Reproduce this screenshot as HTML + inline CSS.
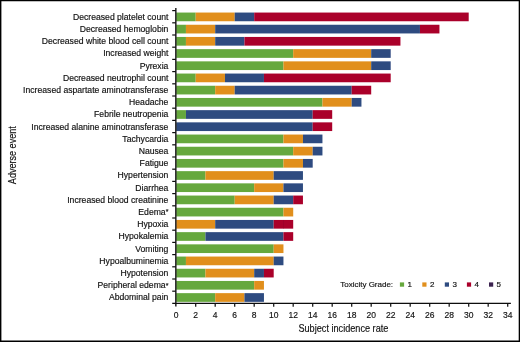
<!DOCTYPE html>
<html><head><meta charset="utf-8"><title>Adverse events</title>
<style>html,body{margin:0;padding:0;background:#fff;}svg{display:block;}text{stroke:#111;stroke-width:0.16px;}</style></head>
<body>
<svg width="520" height="342" viewBox="0 0 520 342" font-family="'Liberation Sans', sans-serif" fill="#111">
<defs><filter id="soft" x="0" y="0" width="520" height="342" filterUnits="userSpaceOnUse"><feGaussianBlur stdDeviation="0.35"/></filter></defs>
<rect x="0" y="0" width="520" height="342" fill="#fff"/>
<g filter="url(#soft)">
<rect x="176.20" y="12.55" width="19.50" height="8.7" fill="#66a83c"/>
<rect x="195.70" y="12.55" width="39.00" height="8.7" fill="#e18f1b"/>
<rect x="234.70" y="12.55" width="19.50" height="8.7" fill="#2d4b80"/>
<rect x="254.20" y="12.55" width="214.50" height="8.7" fill="#aa042c"/>
<text x="168.4" y="19.80" font-size="8.65" text-anchor="end">Decreased platelet count</text>
<rect x="176.20" y="24.75" width="9.75" height="8.7" fill="#66a83c"/>
<rect x="185.95" y="24.75" width="29.25" height="8.7" fill="#e18f1b"/>
<rect x="215.20" y="24.75" width="204.75" height="8.7" fill="#2d4b80"/>
<rect x="419.95" y="24.75" width="19.50" height="8.7" fill="#aa042c"/>
<text x="168.4" y="32.00" font-size="8.65" text-anchor="end">Decreased hemoglobin</text>
<rect x="176.20" y="36.95" width="9.75" height="8.7" fill="#66a83c"/>
<rect x="185.95" y="36.95" width="29.25" height="8.7" fill="#e18f1b"/>
<rect x="215.20" y="36.95" width="29.25" height="8.7" fill="#2d4b80"/>
<rect x="244.45" y="36.95" width="156.00" height="8.7" fill="#aa042c"/>
<text x="168.4" y="44.20" font-size="8.65" text-anchor="end">Decreased white blood cell count</text>
<rect x="176.20" y="49.15" width="117.00" height="8.7" fill="#66a83c"/>
<rect x="293.20" y="49.15" width="78.00" height="8.7" fill="#e18f1b"/>
<rect x="371.20" y="49.15" width="19.50" height="8.7" fill="#2d4b80"/>
<text x="168.4" y="56.40" font-size="8.65" text-anchor="end">Increased weight</text>
<rect x="176.20" y="61.35" width="107.25" height="8.7" fill="#66a83c"/>
<rect x="283.45" y="61.35" width="87.75" height="8.7" fill="#e18f1b"/>
<rect x="371.20" y="61.35" width="19.50" height="8.7" fill="#2d4b80"/>
<text x="168.4" y="68.60" font-size="8.65" text-anchor="end">Pyrexia</text>
<rect x="176.20" y="73.55" width="19.50" height="8.7" fill="#66a83c"/>
<rect x="195.70" y="73.55" width="29.25" height="8.7" fill="#e18f1b"/>
<rect x="224.95" y="73.55" width="39.00" height="8.7" fill="#2d4b80"/>
<rect x="263.95" y="73.55" width="126.75" height="8.7" fill="#aa042c"/>
<text x="168.4" y="80.80" font-size="8.65" text-anchor="end">Decreased neutrophil count</text>
<rect x="176.20" y="85.75" width="39.00" height="8.7" fill="#66a83c"/>
<rect x="215.20" y="85.75" width="19.50" height="8.7" fill="#e18f1b"/>
<rect x="234.70" y="85.75" width="117.00" height="8.7" fill="#2d4b80"/>
<rect x="351.70" y="85.75" width="19.50" height="8.7" fill="#aa042c"/>
<text x="168.4" y="93.00" font-size="8.65" text-anchor="end">Increased aspartate aminotransferase</text>
<rect x="176.20" y="97.95" width="146.25" height="8.7" fill="#66a83c"/>
<rect x="322.45" y="97.95" width="29.25" height="8.7" fill="#e18f1b"/>
<rect x="351.70" y="97.95" width="9.75" height="8.7" fill="#2d4b80"/>
<text x="168.4" y="105.20" font-size="8.65" text-anchor="end">Headache</text>
<rect x="176.20" y="110.15" width="9.75" height="8.7" fill="#66a83c"/>
<rect x="185.95" y="110.15" width="126.75" height="8.7" fill="#2d4b80"/>
<rect x="312.70" y="110.15" width="19.50" height="8.7" fill="#aa042c"/>
<text x="168.4" y="117.40" font-size="8.65" text-anchor="end">Febrile neutropenia</text>
<rect x="176.20" y="122.35" width="136.50" height="8.7" fill="#2d4b80"/>
<rect x="312.70" y="122.35" width="19.50" height="8.7" fill="#aa042c"/>
<text x="168.4" y="129.60" font-size="8.65" text-anchor="end">Increased alanine aminotransferase</text>
<rect x="176.20" y="134.55" width="107.25" height="8.7" fill="#66a83c"/>
<rect x="283.45" y="134.55" width="19.50" height="8.7" fill="#e18f1b"/>
<rect x="302.95" y="134.55" width="19.50" height="8.7" fill="#2d4b80"/>
<text x="168.4" y="141.80" font-size="8.65" text-anchor="end">Tachycardia</text>
<rect x="176.20" y="146.75" width="117.00" height="8.7" fill="#66a83c"/>
<rect x="293.20" y="146.75" width="19.50" height="8.7" fill="#e18f1b"/>
<rect x="312.70" y="146.75" width="9.75" height="8.7" fill="#2d4b80"/>
<text x="168.4" y="154.00" font-size="8.65" text-anchor="end">Nausea</text>
<rect x="176.20" y="158.95" width="107.25" height="8.7" fill="#66a83c"/>
<rect x="283.45" y="158.95" width="19.50" height="8.7" fill="#e18f1b"/>
<rect x="302.95" y="158.95" width="9.75" height="8.7" fill="#2d4b80"/>
<text x="168.4" y="166.20" font-size="8.65" text-anchor="end">Fatigue</text>
<rect x="176.20" y="171.15" width="29.25" height="8.7" fill="#66a83c"/>
<rect x="205.45" y="171.15" width="68.25" height="8.7" fill="#e18f1b"/>
<rect x="273.70" y="171.15" width="29.25" height="8.7" fill="#2d4b80"/>
<text x="168.4" y="178.40" font-size="8.65" text-anchor="end">Hypertension</text>
<rect x="176.20" y="183.35" width="78.00" height="8.7" fill="#66a83c"/>
<rect x="254.20" y="183.35" width="29.25" height="8.7" fill="#e18f1b"/>
<rect x="283.45" y="183.35" width="19.50" height="8.7" fill="#2d4b80"/>
<text x="168.4" y="190.60" font-size="8.65" text-anchor="end">Diarrhea</text>
<rect x="176.20" y="195.55" width="58.50" height="8.7" fill="#66a83c"/>
<rect x="234.70" y="195.55" width="39.00" height="8.7" fill="#e18f1b"/>
<rect x="273.70" y="195.55" width="19.50" height="8.7" fill="#2d4b80"/>
<rect x="293.20" y="195.55" width="9.75" height="8.7" fill="#aa042c"/>
<text x="168.4" y="202.80" font-size="8.65" text-anchor="end">Increased blood creatinine</text>
<rect x="176.20" y="207.75" width="107.25" height="8.7" fill="#66a83c"/>
<rect x="283.45" y="207.75" width="9.75" height="8.7" fill="#e18f1b"/>
<text x="168.4" y="215.00" font-size="8.65" text-anchor="end">Edema<tspan font-size="7" dy="-0.6">*</tspan></text>
<rect x="176.20" y="219.95" width="39.00" height="8.7" fill="#e18f1b"/>
<rect x="215.20" y="219.95" width="58.50" height="8.7" fill="#2d4b80"/>
<rect x="273.70" y="219.95" width="19.50" height="8.7" fill="#aa042c"/>
<text x="168.4" y="227.20" font-size="8.65" text-anchor="end">Hypoxia</text>
<rect x="176.20" y="232.15" width="29.25" height="8.7" fill="#66a83c"/>
<rect x="205.45" y="232.15" width="78.00" height="8.7" fill="#2d4b80"/>
<rect x="283.45" y="232.15" width="9.75" height="8.7" fill="#aa042c"/>
<text x="168.4" y="239.40" font-size="8.65" text-anchor="end">Hypokalemia</text>
<rect x="176.20" y="244.35" width="97.50" height="8.7" fill="#66a83c"/>
<rect x="273.70" y="244.35" width="9.75" height="8.7" fill="#e18f1b"/>
<text x="168.4" y="251.60" font-size="8.65" text-anchor="end">Vomiting</text>
<rect x="176.20" y="256.55" width="9.75" height="8.7" fill="#66a83c"/>
<rect x="185.95" y="256.55" width="87.75" height="8.7" fill="#e18f1b"/>
<rect x="273.70" y="256.55" width="9.75" height="8.7" fill="#2d4b80"/>
<text x="168.4" y="263.80" font-size="8.65" text-anchor="end">Hypoalbuminemia</text>
<rect x="176.20" y="268.75" width="29.25" height="8.7" fill="#66a83c"/>
<rect x="205.45" y="268.75" width="48.75" height="8.7" fill="#e18f1b"/>
<rect x="254.20" y="268.75" width="9.75" height="8.7" fill="#2d4b80"/>
<rect x="263.95" y="268.75" width="9.75" height="8.7" fill="#aa042c"/>
<text x="168.4" y="276.00" font-size="8.65" text-anchor="end">Hypotension</text>
<rect x="176.20" y="280.95" width="78.00" height="8.7" fill="#66a83c"/>
<rect x="254.20" y="280.95" width="9.75" height="8.7" fill="#e18f1b"/>
<text x="168.4" y="288.20" font-size="8.65" text-anchor="end">Peripheral edema<tspan font-size="7" dy="-0.6">*</tspan></text>
<rect x="176.20" y="293.15" width="39.00" height="8.7" fill="#66a83c"/>
<rect x="215.20" y="293.15" width="29.25" height="8.7" fill="#e18f1b"/>
<rect x="244.45" y="293.15" width="19.50" height="8.7" fill="#2d4b80"/>
<text x="168.4" y="300.40" font-size="8.65" text-anchor="end">Abdominal pain</text>
<rect x="283.05" y="219.95" width="0.8" height="8.7" fill="#7d0a2a" opacity="0.35"/>
<g stroke="#111" stroke-width="1.4" fill="none">
<line x1="175.85" y1="8.0" x2="175.85" y2="306.4"/>
<line x1="172.2" y1="303.4" x2="510.9" y2="303.4"/>
</g>
<g stroke="#111" stroke-width="1.2" fill="none">
<line x1="172.2" y1="10.60" x2="175.85" y2="10.60"/>
<line x1="172.2" y1="22.80" x2="175.85" y2="22.80"/>
<line x1="172.2" y1="35.00" x2="175.85" y2="35.00"/>
<line x1="172.2" y1="47.20" x2="175.85" y2="47.20"/>
<line x1="172.2" y1="59.40" x2="175.85" y2="59.40"/>
<line x1="172.2" y1="71.60" x2="175.85" y2="71.60"/>
<line x1="172.2" y1="83.80" x2="175.85" y2="83.80"/>
<line x1="172.2" y1="96.00" x2="175.85" y2="96.00"/>
<line x1="172.2" y1="108.20" x2="175.85" y2="108.20"/>
<line x1="172.2" y1="120.40" x2="175.85" y2="120.40"/>
<line x1="172.2" y1="132.60" x2="175.85" y2="132.60"/>
<line x1="172.2" y1="144.80" x2="175.85" y2="144.80"/>
<line x1="172.2" y1="157.00" x2="175.85" y2="157.00"/>
<line x1="172.2" y1="169.20" x2="175.85" y2="169.20"/>
<line x1="172.2" y1="181.40" x2="175.85" y2="181.40"/>
<line x1="172.2" y1="193.60" x2="175.85" y2="193.60"/>
<line x1="172.2" y1="205.80" x2="175.85" y2="205.80"/>
<line x1="172.2" y1="218.00" x2="175.85" y2="218.00"/>
<line x1="172.2" y1="230.20" x2="175.85" y2="230.20"/>
<line x1="172.2" y1="242.40" x2="175.85" y2="242.40"/>
<line x1="172.2" y1="254.60" x2="175.85" y2="254.60"/>
<line x1="172.2" y1="266.80" x2="175.85" y2="266.80"/>
<line x1="172.2" y1="279.00" x2="175.85" y2="279.00"/>
<line x1="172.2" y1="291.20" x2="175.85" y2="291.20"/>
<line x1="195.70" y1="303.4" x2="195.70" y2="306.8"/>
<line x1="215.20" y1="303.4" x2="215.20" y2="306.8"/>
<line x1="234.70" y1="303.4" x2="234.70" y2="306.8"/>
<line x1="254.20" y1="303.4" x2="254.20" y2="306.8"/>
<line x1="273.70" y1="303.4" x2="273.70" y2="306.8"/>
<line x1="293.20" y1="303.4" x2="293.20" y2="306.8"/>
<line x1="312.70" y1="303.4" x2="312.70" y2="306.8"/>
<line x1="332.20" y1="303.4" x2="332.20" y2="306.8"/>
<line x1="351.70" y1="303.4" x2="351.70" y2="306.8"/>
<line x1="371.20" y1="303.4" x2="371.20" y2="306.8"/>
<line x1="390.70" y1="303.4" x2="390.70" y2="306.8"/>
<line x1="410.20" y1="303.4" x2="410.20" y2="306.8"/>
<line x1="429.70" y1="303.4" x2="429.70" y2="306.8"/>
<line x1="449.20" y1="303.4" x2="449.20" y2="306.8"/>
<line x1="468.70" y1="303.4" x2="468.70" y2="306.8"/>
<line x1="488.20" y1="303.4" x2="488.20" y2="306.8"/>
<line x1="507.70" y1="303.4" x2="507.70" y2="306.8"/>
</g>
<text x="176.20" y="317.8" font-size="8.5" text-anchor="middle">0</text>
<text x="195.70" y="317.8" font-size="8.5" text-anchor="middle">2</text>
<text x="215.20" y="317.8" font-size="8.5" text-anchor="middle">4</text>
<text x="234.70" y="317.8" font-size="8.5" text-anchor="middle">6</text>
<text x="254.20" y="317.8" font-size="8.5" text-anchor="middle">8</text>
<text x="273.70" y="317.8" font-size="8.5" text-anchor="middle">10</text>
<text x="293.20" y="317.8" font-size="8.5" text-anchor="middle">12</text>
<text x="312.70" y="317.8" font-size="8.5" text-anchor="middle">14</text>
<text x="332.20" y="317.8" font-size="8.5" text-anchor="middle">16</text>
<text x="351.70" y="317.8" font-size="8.5" text-anchor="middle">18</text>
<text x="371.20" y="317.8" font-size="8.5" text-anchor="middle">20</text>
<text x="390.70" y="317.8" font-size="8.5" text-anchor="middle">22</text>
<text x="410.20" y="317.8" font-size="8.5" text-anchor="middle">24</text>
<text x="429.70" y="317.8" font-size="8.5" text-anchor="middle">26</text>
<text x="449.20" y="317.8" font-size="8.5" text-anchor="middle">28</text>
<text x="468.70" y="317.8" font-size="8.5" text-anchor="middle">30</text>
<text x="488.20" y="317.8" font-size="8.5" text-anchor="middle">32</text>
<text x="507.70" y="317.8" font-size="8.5" text-anchor="middle">34</text>
<text x="343.4" y="331.7" font-size="11" text-anchor="middle" textLength="89.9" lengthAdjust="spacingAndGlyphs">Subject incidence rate</text>
<text transform="translate(16.1,155.2) rotate(-90)" font-size="11" text-anchor="middle" textLength="57.9" lengthAdjust="spacingAndGlyphs">Adverse event</text>
<text x="340.2" y="286.8" font-size="8.0">Toxicity Grade:</text>
<rect x="399.9" y="282.4" width="4.2" height="4.3" fill="#66a83c"/>
<text x="407.5" y="286.9" font-size="8.0">1</text>
<rect x="422.3" y="282.4" width="4.2" height="4.3" fill="#e18f1b"/>
<text x="429.9" y="286.9" font-size="8.0">2</text>
<rect x="444.8" y="282.4" width="4.2" height="4.3" fill="#2d4b80"/>
<text x="452.4" y="286.9" font-size="8.0">3</text>
<rect x="466.9" y="282.4" width="4.2" height="4.3" fill="#aa042c"/>
<text x="474.5" y="286.9" font-size="8.0">4</text>
<rect x="489.0" y="282.4" width="4.2" height="4.3" fill="#3a2150"/>
<text x="496.6" y="286.9" font-size="8.0">5</text>
</g>
<path d="M0 0H520V342H0Z M1.4 1.2V340.4H518.7V1.2Z" fill="#000" fill-rule="evenodd"/>
</svg>
</body></html>
